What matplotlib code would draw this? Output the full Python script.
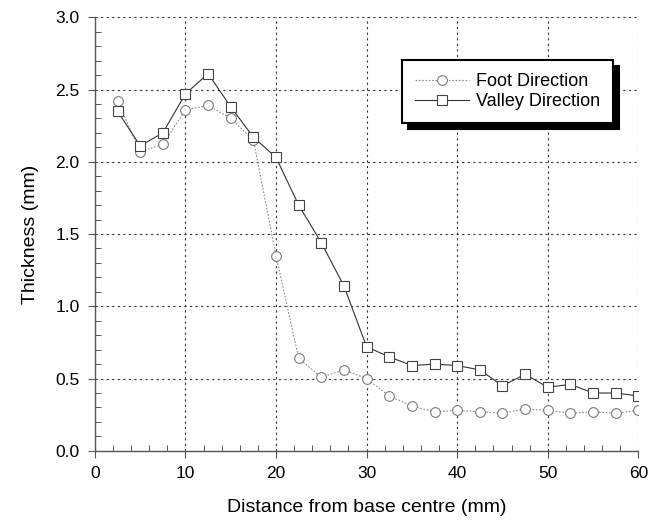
import matplotlib.pyplot as plt
from matplotlib.ticker import MultipleLocator

plt.rcParams['font.family'] = ['Liberation Sans', 'DejaVu Sans']

# 数据
distance = [2.5, 5, 7.5, 10, 12.5, 15, 17.5, 20, 22.5, 25, 27.5, 30,
            32.5, 35, 37.5, 40, 42.5, 45, 47.5, 50, 52.5, 55, 57.5, 60]
foot = [2.42, 2.07, 2.12, 2.36, 2.39, 2.30, 2.15, 1.35, 0.64, 0.51, 0.56, 0.50,
        0.38, 0.31, 0.27, 0.28, 0.27, 0.26, 0.29, 0.28, 0.26, 0.27, 0.26, 0.28]
valley = [2.35, 2.11, 2.20, 2.47, 2.61, 2.38, 2.17, 2.03, 1.70, 1.44, 1.14, 0.72,
          0.65, 0.59, 0.60, 0.59, 0.56, 0.45, 0.53, 0.44, 0.46, 0.40, 0.40, 0.38]

fig = plt.figure(figsize=(6.5, 5.23), dpi=100)
ax = fig.add_axes([0.146, 0.138, 0.836, 0.829])

ax.plot(distance, foot, color='#8a8a8a', lw=0.8, ls=(0, (1.5, 1.5)),
        marker='o', ms=7, mfc='white', mec='#7a7a7a', mew=0.8,
        label='Foot Direction', zorder=3)
ax.plot(distance, valley, color='#333333', lw=0.8, ls='-',
        marker='s', ms=7, mfc='white', mec='#444444', mew=0.8,
        label='Valley Direction', zorder=4)

ax.set_xlim(0, 60)
ax.set_ylim(0, 3.0)
ax.xaxis.set_major_locator(MultipleLocator(10))
ax.xaxis.set_minor_locator(MultipleLocator(2))
ax.yaxis.set_major_locator(MultipleLocator(0.5))
ax.yaxis.set_minor_locator(MultipleLocator(0.1))
ax.yaxis.set_major_formatter(plt.FormatStrFormatter('%.1f'))

ax.grid(True, which='major', color='#333333', ls=(0, (2, 3)), lw=0.8)
ax.set_axisbelow(True)

for s in ['top', 'right']:
    ax.spines[s].set_visible(False)
for s in ['left', 'bottom']:
    ax.spines[s].set_color('#555555')
    ax.spines[s].set_linewidth(1.0)

ax.tick_params(which='major', direction='out', length=5, width=0.8,
               color='#555555', labelsize=12.5, pad=6)
ax.tick_params(which='minor', direction='in', length=4, width=0.7, color='#555555')

ax.set_xlabel('Distance from base centre (mm)', fontsize=14, labelpad=13)
ax.set_ylabel('Thickness (mm)', fontsize=14, labelpad=12)

leg = ax.legend(loc='upper left', bbox_to_anchor=(0.566, 0.901), fontsize=13,
                frameon=True, fancybox=False, borderpad=0.7, handlelength=3.0,
                labelspacing=0.2, handletextpad=0.4, borderaxespad=0,
                shadow={'color': 'black', 'alpha': 1, 'ox': 4, 'oy': -4})
leg.get_frame().set_edgecolor('black')
leg.get_frame().set_linewidth(1.5)
leg.get_frame().set_alpha(1)

plt.savefig('out.png', dpi=100)
